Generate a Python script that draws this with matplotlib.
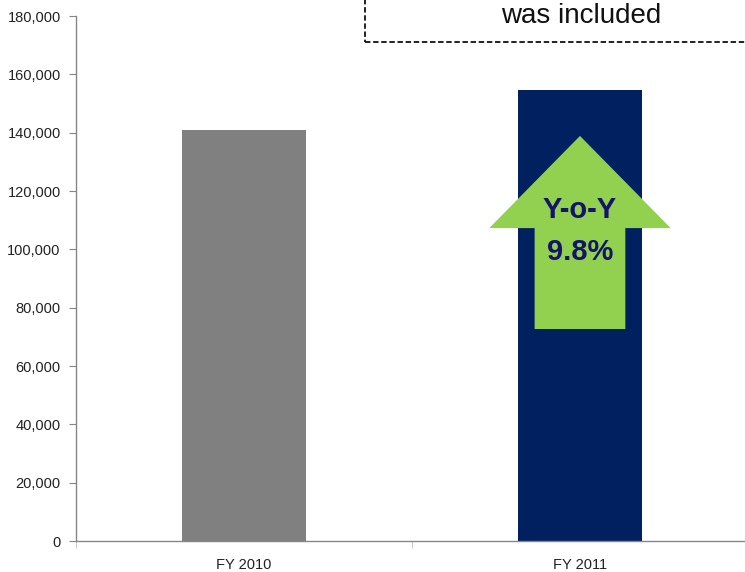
import matplotlib
matplotlib.use("Agg")
import matplotlib.pyplot as plt
from matplotlib.patches import Polygon, Rectangle
from matplotlib.ticker import FuncFormatter, FixedLocator

# Revenue by fiscal year
years = ["FY 2010", "FY 2011"]
revenue = [140800, 154600]
bar_colors = ["#808080", "#002060"]
yoy_lines = ["Y-o-Y", "9.8%"]
note_text = "was included"

y_ticks = list(range(0, 180001, 20000))

plt.rcParams["font.family"] = ["Liberation Sans", "DejaVu Sans"]

fig = plt.figure(figsize=(7.45, 5.72), dpi=100)
ax = fig.add_axes([0.102, 0.054, 0.902, 0.918])

x = list(range(len(years)))
ax.bar(x, revenue, width=0.37, color=bar_colors, zorder=2)

ax.set_xlim(-0.5, 1.5)
ax.set_ylim(0, 180000)
ax.yaxis.set_major_locator(FixedLocator(y_ticks))
ax.yaxis.set_major_formatter(FuncFormatter(lambda v, _: f"{int(v):,}"))
ax.set_xticks(x)
ax.set_xticklabels(years)
ax.xaxis.set_minor_locator(FixedLocator([-0.5, 0.5, 1.5]))

for side in ("top", "right"):
    ax.spines[side].set_visible(False)
for side in ("left", "bottom"):
    ax.spines[side].set_color("#868686")
    ax.spines[side].set_linewidth(1.0)

ax.tick_params(axis="y", direction="out", length=5, color="#868686",
               labelsize=10.5, pad=6, labelcolor="#222222")
ax.tick_params(axis="x", which="major", length=0, labelsize=10.5, pad=12,
               labelcolor="#222222")
ax.tick_params(axis="x", which="minor", direction="out", length=5, color="#c0c0c0")

# growth arrow over the FY 2011 bar
cx = 1.0
tip, head_base, tail = 138900, 107300, 72700
head_half, shaft_half = 0.27, 0.135
arrow_pts = [
    (cx, tip), (cx + head_half, head_base), (cx + shaft_half, head_base),
    (cx + shaft_half, tail), (cx - shaft_half, tail), (cx - shaft_half, head_base),
    (cx - head_half, head_base),
]
ax.add_patch(Polygon(arrow_pts, closed=True, facecolor="#92D050", edgecolor="none", zorder=3))
for line, y in zip(yoy_lines, (113500, 99100)):
    ax.text(cx, y, line, ha="center", va="center", fontsize=21, fontweight="bold",
            color="#14146b", zorder=4)

# dashed note box at the top right
fig.patches.append(Rectangle((365 / 745, 1 - 42 / 572), 0.6, 0.2, transform=fig.transFigure,
                             fill=False, edgecolor="#111111", linestyle=(0, (3, 1.5)),
                             linewidth=1.3))
fig.text(581 / 745, 1 - 3 / 572, note_text, ha="center", va="top", fontsize=20,
         color="#111111")

fig.savefig("out.png", dpi=100)
